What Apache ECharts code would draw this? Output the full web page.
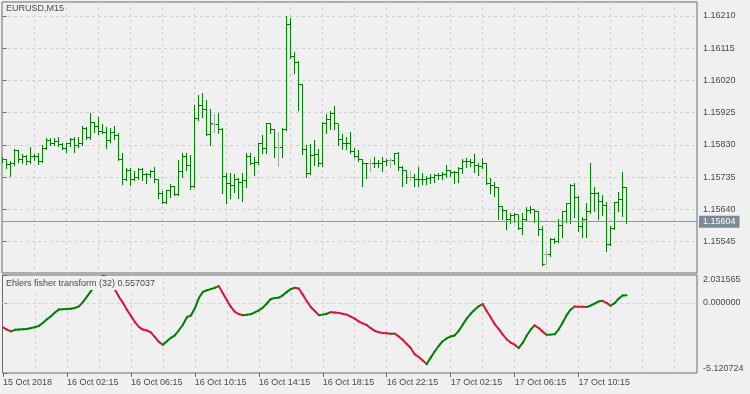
<!DOCTYPE html>
<html><head><meta charset="utf-8">
<script src="https://cdn.jsdelivr.net/npm/echarts@6/dist/echarts.min.js"></script>
<style>html,body{margin:0;padding:0;background:#f0f0f0}#c{width:750px;height:394px}</style>
</head><body><div id="c"></div>
<script>
// ---------------- data ----------------
const symbolName = 'EURUSD,M15';
const indicatorName = 'Ehlers fisher transform (32)';
// M15 bars, index 0 = 15 Oct 2018 22:15
const opens = [1.15786,1.15788,1.15773,1.15774,1.15815,1.15788,1.15797,1.15781,1.15795,1.15797,
1.15781,1.15820,1.15843,1.15835,1.15840,1.15830,1.15820,1.15833,1.15845,1.15827,
1.15833,1.15879,1.15851,1.15896,1.15884,1.15869,1.15867,1.15843,1.15866,1.15859,
1.15788,1.15729,1.15754,1.15729,1.15735,1.15758,1.15744,1.15742,1.15751,1.15729,
1.15688,1.15661,1.15697,1.15707,1.15685,1.15752,1.15797,1.15768,1.15707,1.15909,
1.15946,1.15935,1.15862,1.15889,1.15889,1.15876,1.15736,1.15715,1.15712,1.15729,
1.15719,1.15725,1.15795,1.15774,1.15778,1.15833,1.15820,1.15894,1.15876,1.15823,
1.15823,1.15876,1.16186,1.16090,1.16072,1.16007,1.15817,1.15746,1.15800,1.15803,
1.15776,1.15894,1.15906,1.15923,1.15892,1.15847,1.15833,1.15834,1.15810,1.15795,
1.15788,1.15776,1.15774,1.15774,1.15776,1.15774,1.15781,1.15783,1.15783,1.15805,
1.15764,1.15754,1.15735,1.15735,1.15729,1.15727,1.15729,1.15732,1.15735,1.15739,
1.15741,1.15744,1.15754,1.15748,1.15750,1.15761,1.15781,1.15780,1.15778,1.15768,
1.15766,1.15774,1.15717,1.15712,1.15705,1.15650,1.15636,1.15611,1.15621,1.15624,
1.15585,1.15611,1.15638,1.15640,1.15633,1.15582,1.15506,1.15506,1.15552,1.15545,
1.15594,1.15633,1.15659,1.15712,1.15676,1.15591,1.15609,1.15633,1.15688,1.15686,
1.15663,1.15653,1.15538,1.15585,1.15660,1.15668,1.15705];
const highs = [1.15795,1.15789,1.15783,1.15817,1.15816,1.15803,1.15800,1.15823,1.15803,1.15805,
1.15830,1.15850,1.15850,1.15850,1.15853,1.15835,1.15835,1.15850,1.15854,1.15854,
1.15886,1.15884,1.15923,1.15899,1.15913,1.15892,1.15884,1.15879,1.15886,1.15864,
1.15807,1.15761,1.15761,1.15754,1.15761,1.15761,1.15746,1.15756,1.15766,1.15730,
1.15695,1.15697,1.15715,1.15709,1.15786,1.15805,1.15807,1.15800,1.15948,1.15977,
1.15982,1.15962,1.15935,1.15921,1.15923,1.15879,1.15748,1.15746,1.15744,1.15732,
1.15746,1.15805,1.15805,1.15795,1.15837,1.15859,1.15896,1.15896,1.15878,1.15869,
1.15879,1.16210,1.16203,1.16105,1.16078,1.16010,1.15830,1.15833,1.15845,1.15817,
1.15899,1.15921,1.15931,1.15945,1.15893,1.15862,1.15853,1.15869,1.15820,1.15815,
1.15789,1.15777,1.15788,1.15794,1.15786,1.15795,1.15788,1.15791,1.15807,1.15810,
1.15768,1.15755,1.15754,1.15744,1.15766,1.15748,1.15739,1.15744,1.15744,1.15746,
1.15751,1.15771,1.15756,1.15754,1.15766,1.15788,1.15791,1.15788,1.15803,1.15776,
1.15791,1.15776,1.15732,1.15722,1.15707,1.15651,1.15638,1.15631,1.15631,1.15625,
1.15629,1.15646,1.15650,1.15641,1.15634,1.15591,1.15518,1.15555,1.15555,1.15611,
1.15636,1.15660,1.15715,1.15719,1.15680,1.15617,1.15658,1.15778,1.15705,1.15692,
1.15683,1.15663,1.15591,1.15663,1.15692,1.15751,1.15707];
const lows = [1.15780,1.15761,1.15739,1.15772,1.15781,1.15776,1.15773,1.15776,1.15786,1.15773,
1.15779,1.15819,1.15830,1.15830,1.15827,1.15817,1.15810,1.15826,1.15810,1.15825,
1.15830,1.15847,1.15848,1.15869,1.15861,1.15866,1.15820,1.15840,1.15847,1.15786,
1.15715,1.15727,1.15712,1.15727,1.15729,1.15727,1.15717,1.15735,1.15722,1.15673,
1.15658,1.15658,1.15678,1.15683,1.15683,1.15736,1.15756,1.15699,1.15705,1.15904,
1.15913,1.15859,1.15830,1.15869,1.15866,1.15689,1.15658,1.15673,1.15692,1.15673,
1.15666,1.15707,1.15774,1.15742,1.15774,1.15807,1.15805,1.15866,1.15795,1.15768,
1.15795,1.15874,1.16085,1.16043,1.15933,1.15803,1.15735,1.15745,1.15771,1.15768,
1.15768,1.15866,1.15876,1.15876,1.15830,1.15817,1.15817,1.15807,1.15794,1.15784,
1.15709,1.15732,1.15754,1.15764,1.15766,1.15754,1.15771,1.15766,1.15774,1.15756,
1.15709,1.15717,1.15727,1.15709,1.15709,1.15715,1.15715,1.15719,1.15722,1.15729,
1.15729,1.15735,1.15739,1.15719,1.15722,1.15746,1.15766,1.15768,1.15751,1.15742,
1.15761,1.15715,1.15688,1.15680,1.15611,1.15611,1.15582,1.15601,1.15604,1.15582,
1.15568,1.15607,1.15631,1.15604,1.15565,1.15476,1.15479,1.15504,1.15542,1.15543,
1.15560,1.15604,1.15601,1.15619,1.15577,1.15558,1.15558,1.15631,1.15636,1.15611,
1.15624,1.15518,1.15536,1.15582,1.15636,1.15621,1.15601];
const closes = [1.15788,1.15773,1.15774,1.15815,1.15788,1.15797,1.15781,1.15795,1.15797,1.15781,
1.15820,1.15843,1.15835,1.15840,1.15830,1.15820,1.15833,1.15845,1.15827,1.15833,
1.15879,1.15851,1.15896,1.15884,1.15869,1.15867,1.15843,1.15866,1.15859,1.15788,
1.15729,1.15754,1.15729,1.15735,1.15758,1.15744,1.15742,1.15751,1.15729,1.15688,
1.15661,1.15697,1.15707,1.15685,1.15752,1.15797,1.15768,1.15707,1.15909,1.15946,
1.15935,1.15862,1.15892,1.15889,1.15876,1.15736,1.15715,1.15712,1.15729,1.15719,
1.15725,1.15795,1.15774,1.15778,1.15833,1.15820,1.15894,1.15876,1.15823,1.15823,
1.15876,1.16186,1.16090,1.16072,1.16007,1.15817,1.15746,1.15800,1.15803,1.15776,
1.15894,1.15906,1.15923,1.15892,1.15847,1.15833,1.15834,1.15810,1.15795,1.15788,
1.15776,1.15774,1.15774,1.15776,1.15774,1.15781,1.15783,1.15783,1.15805,1.15764,
1.15754,1.15735,1.15735,1.15729,1.15727,1.15729,1.15732,1.15735,1.15739,1.15741,
1.15744,1.15754,1.15748,1.15750,1.15761,1.15781,1.15780,1.15778,1.15768,1.15766,
1.15774,1.15717,1.15712,1.15705,1.15650,1.15636,1.15611,1.15621,1.15624,1.15585,
1.15611,1.15638,1.15640,1.15633,1.15582,1.15479,1.15506,1.15552,1.15545,1.15594,
1.15633,1.15659,1.15712,1.15676,1.15591,1.15609,1.15633,1.15688,1.15686,1.15663,
1.15653,1.15538,1.15585,1.15660,1.15668,1.15705,1.15604];
const fisher = [-1.79,-1.95,-2.08,-1.97,-1.94,-1.93,-1.91,-1.83,-1.78,-1.68,
-1.45,-1.20,-0.98,-0.70,-0.48,-0.46,-0.45,-0.43,-0.38,-0.26,
0.05,0.45,0.85,1.25,1.62,2.031565,1.85,1.40,0.98,0.45,
0.00,-0.50,-0.95,-1.40,-1.75,-1.95,-2.02,-2.15,-2.50,-2.85,
-3.06,-2.81,-2.55,-2.38,-2.00,-1.60,-1.05,-0.92,-0.40,0.35,
0.80,0.92,1.00,1.10,1.22,0.70,0.20,-0.30,-0.65,-0.82,
-0.90,-0.87,-0.83,-0.70,-0.55,-0.35,-0.05,0.28,0.35,0.38,
0.55,0.80,1.00,1.10,1.05,0.60,0.12,-0.30,-0.60,-0.90,
-0.86,-0.80,-0.68,-0.70,-0.74,-0.80,-0.86,-1.00,-1.15,-1.35,
-1.50,-1.62,-1.85,-2.05,-2.15,-2.20,-2.22,-2.26,-2.25,-2.45,
-2.70,-3.00,-3.30,-3.75,-3.95,-4.20,-4.47,-4.00,-3.55,-3.15,
-2.80,-2.60,-2.45,-2.38,-2.05,-1.60,-1.15,-0.80,-0.50,-0.25,
-0.09,-0.60,-1.05,-1.55,-1.90,-2.30,-2.65,-2.90,-3.05,-3.30,
-2.93,-2.40,-1.96,-1.64,-1.84,-2.10,-2.33,-2.32,-2.30,-1.95,
-1.45,-0.90,-0.50,-0.26,-0.28,-0.29,-0.30,-0.20,-0.05,0.10,
0.15,0.00,-0.21,-0.02,0.30,0.53,0.557037];
const priceTicks = [1.15545,1.15640,1.15735,1.15830,1.15925,1.16020,1.16115,1.16210];
const fisherTicks = [-5.120724, 0, 2.031565];
const timeLabels = ['15 Oct 2018','16 Oct 02:15','16 Oct 06:15','16 Oct 10:15','16 Oct 14:15',
  '16 Oct 18:15','16 Oct 22:15','17 Oct 02:15','17 Oct 06:15','17 Oct 10:15'];
const timeLabelBars = [0,16,32,48,64,80,96,112,128,144];

// ---------------- chart ----------------
const FONT = '"Liberation Sans", Arial, sans-serif';
const TXT = '#4a4a4a';
const BORDER = '#6a6a6a';
const GRIDC = '#cfcfcf';
const UP = '#008000', DOWN = '#dc143c', DOJI = '#a8a8a8';
const N = closes.length;
const xMin = -0.125, xMax = 173.625;   // 4 px per bar, chart shift on the right
const gridBars = [];
for (let k = 8; k < xMax; k += 8) gridBars.push(k);

const ohlcData = opens.map((o, i) => [i, o, highs[i], lows[i], closes[i]]);
const fisherData = fisher.map((v, i) => [i, i > 0 ? fisher[i - 1] : v, v]);

function px(v) { return Math.round(v - 0.5) + 0.5; }

const chart = echarts.init(document.getElementById('c'), null, {renderer: 'canvas'});
const xCommon = {type: 'value', min: xMin, max: xMax, axisLine: {show: false}};
chart.setOption({
  backgroundColor: '#f0f0f0',
  animation: false,
  textStyle: {fontFamily: FONT},
  title: [
    {text: symbolName, left: 4, top: 3, padding: [1, 2],
     textStyle: {fontSize: 9, fontWeight: 'normal', color: TXT, fontFamily: FONT}},
    {text: indicatorName + ' ' + fisher[N - 1].toFixed(6), left: 3, top: 276, padding: [3, 3, 2, 3],
     backgroundColor: '#f0f0f0',
     textStyle: {fontSize: 9, fontWeight: 'normal', color: TXT, fontFamily: FONT}}
  ],
  grid: [
    {left: 2, top: 2, width: 695, height: 271, show: true, borderColor: BORDER, borderWidth: 1, backgroundColor: 'transparent'},
    {left: 2, top: 275, width: 695, height: 98, show: true, borderColor: BORDER, borderWidth: 1, backgroundColor: 'transparent'}
  ],
  xAxis: [
    Object.assign({}, xCommon, {gridIndex: 0, axisTick: {show: false, customValues: gridBars},
      axisLabel: {show: false}, splitLine: {show: true, lineStyle: {color: GRIDC, type: [3, 3], width: 1}}}),
    Object.assign({}, xCommon, {gridIndex: 1, position: 'top', axisTick: {show: false, customValues: gridBars},
      axisLabel: {show: false}, splitLine: {show: true, lineStyle: {color: GRIDC, type: [3, 3], width: 1}}}),
    Object.assign({}, xCommon, {gridIndex: 1, position: 'bottom',
      axisTick: {show: true, length: 4, customValues: timeLabelBars, lineStyle: {color: BORDER}},
      axisLabel: {customValues: timeLabelBars, align: 'left', margin: 5, fontSize: 9, color: TXT, fontFamily: FONT,
        formatter: v => timeLabels[timeLabelBars.indexOf(Math.round(v))] || ''},
      splitLine: {show: false}})
  ],
  yAxis: [
    {gridIndex: 0, type: 'value', position: 'right', min: 1.154528, max: 1.162511, axisLine: {show: false},
     axisTick: {show: true, length: 4, customValues: priceTicks, lineStyle: {color: BORDER}},
     axisLabel: {customValues: priceTicks, margin: 6, fontSize: 9, color: TXT, fontFamily: FONT, formatter: v => v.toFixed(5)},
     splitLine: {show: true, lineStyle: {color: GRIDC, type: [3, 3], width: 1}}},
    {gridIndex: 1, type: 'value', position: 'right', min: fisherTicks[0], max: fisherTicks[2], axisLine: {show: false},
     axisTick: {show: true, length: 4, customValues: fisherTicks, lineStyle: {color: BORDER}},
     axisLabel: {customValues: fisherTicks, margin: 6, fontSize: 9, color: TXT, fontFamily: FONT,
       verticalAlignMinLabel: 'bottom', verticalAlignMaxLabel: 'top', formatter: v => v.toFixed(6)},
     splitLine: {show: false}}
  ],
  series: [
    {type: 'custom', name: 'bars', xAxisIndex: 0, yAxisIndex: 0, clip: true,
     data: ohlcData, encode: {x: 0, y: [1, 2, 3, 4]},
     renderItem: function (params, api) {
       const i = api.value(0);
       const o = api.coord([i, api.value(1)]);
       const h = api.coord([i, api.value(2)]);
       const l = api.coord([i, api.value(3)]);
       const c = api.coord([i, api.value(4)]);
       const x = px(o[0]);
       const col = api.value(1) === api.value(4) ? DOJI : UP;
       const st = {stroke: col, lineWidth: 1};
       return {type: 'group', children: [
         {type: 'line', shape: {x1: x, y1: Math.round(h[1]), x2: x, y2: Math.round(l[1]) + 1}, style: st},
         {type: 'line', shape: {x1: x - 2.5, y1: px(o[1]), x2: x, y2: px(o[1])}, style: st},
         {type: 'line', shape: {x1: x, y1: px(c[1]), x2: x + 2.5, y2: px(c[1])}, style: st}
       ]};
     },
     markLine: {silent: true, symbol: 'none', animation: false, precision: 5,
       lineStyle: {color: '#8a96a2', type: 'solid', width: 1},
       label: {show: true, position: 'end', distance: 2, formatter: p => Number(p.value).toFixed(5),
         backgroundColor: '#7c8a98', color: '#ffffff', padding: [2, 4, 1, 4], fontSize: 9, fontFamily: FONT},
       data: [{yAxis: closes[N - 1]}]}
    },
    {type: 'custom', name: 'fisher', xAxisIndex: 2, yAxisIndex: 1, clip: true,
     data: fisherData, encode: {x: 0, y: [1, 2]},
     renderItem: function (params, api) {
       const i = api.value(0);
       if (i === 0) return null;
       const a = api.coord([i - 1, api.value(1)]);
       const b = api.coord([i, api.value(2)]);
       const col = api.value(2) >= api.value(1) ? UP : DOWN;
       return {type: 'line', shape: {x1: a[0], y1: a[1], x2: b[0], y2: b[1]},
         style: {stroke: col, lineWidth: 2, lineCap: 'round'}};
     },
     markLine: {silent: true, symbol: 'none', animation: false, z: 1,
       lineStyle: {color: GRIDC, type: [3, 3], width: 1}, label: {show: false},
       data: [{yAxis: 0}]}
    }
  ]
});
</script></body></html>
